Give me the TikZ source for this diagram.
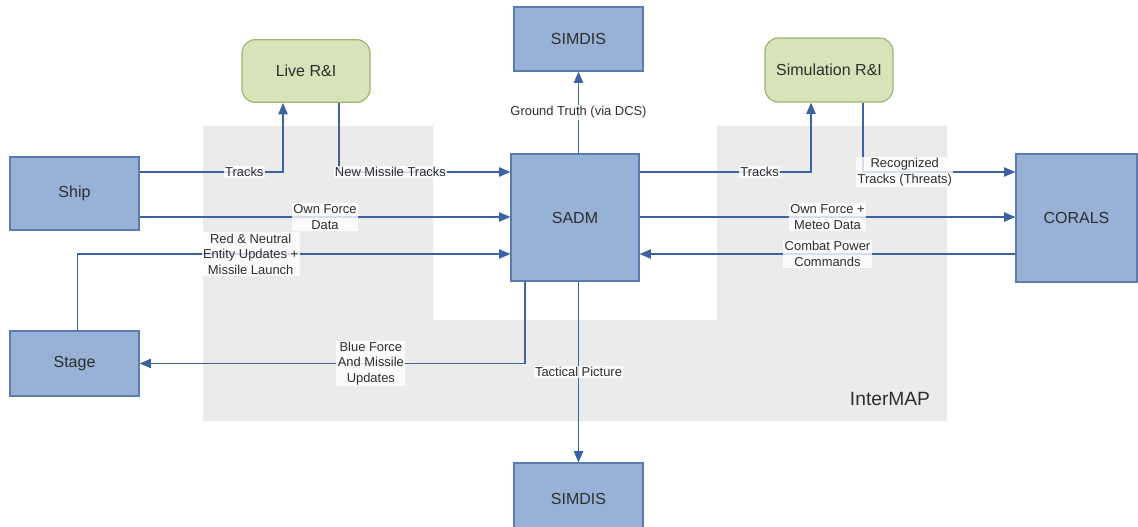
\documentclass[tikz,border=0pt]{standalone}
\usepackage{fontspec}
\setmainfont{Liberation Sans}
\usetikzlibrary{arrows.meta,calc}
\definecolor{boxfill}{HTML}{97B2D6}
\definecolor{boxline}{HTML}{5A7CAE}
\definecolor{rifill}{HTML}{D7E4BA}
\definecolor{riline}{HTML}{9DB56F}
\definecolor{flowline}{HTML}{3D62A0}
\definecolor{mapgray}{HTML}{EBEBEB}
\definecolor{inktext}{HTML}{2E2E2E}
\tikzset{
  sysbox/.style={draw=boxline, fill=boxfill, line width=0.9pt, text=inktext, inner sep=0pt, font=\fontsize{12}{14}\selectfont},
  ribox/.style={draw=riline, fill=rifill, line width=0.9pt, rounded corners=10pt, text=inktext, inner sep=0pt, minimum width=96pt, minimum height=47pt, font=\fontsize{12}{14}\selectfont},
  flow/.style={draw=flowline, line width=1.1pt, -{Triangle[length=8.5pt,width=7pt]}},
  lbl/.style={fill=white, fill opacity=0.8, text opacity=1, text=inktext, align=center, inner sep=1pt, font=\fontsize{9.7}{11.6}\selectfont}
}
\begin{document}
\begin{tikzpicture}[x=0.75pt, y=-0.75pt]
				\useasboundingbox (0,0) rectangle (1138,527);
				% InterMAP area
				\fill[mapgray] (203,126) -- (433,126) -- (433,320) -- (717,320) -- (717,126) -- (947,126) -- (947,421) -- (203,421) -- cycle;
				\node[text=inktext, font=\fontsize{14.4}{16}\selectfont] (intermap) at (890,399) {InterMAP};

				\node[sysbox, minimum width=96.75pt, minimum height=54.75pt] (ship) at (74.5,193.5) {Ship};
				\node[sysbox, minimum width=96.75pt, minimum height=48.75pt] (stage) at (74.5,363.5) {Stage};
				\node[sysbox, minimum width=96pt, minimum height=95.25pt] (sadm) at (575,217.5) {SADM};
				\node[sysbox, minimum width=96.75pt, minimum height=48pt] (simdistop) at (578.5,39) {SIMDIS};
				\node[sysbox, minimum width=96.75pt, minimum height=54pt] (simdisbot) at (578.5,499) {SIMDIS};
				\node[sysbox, minimum width=90.75pt, minimum height=96pt] (corals) at (1076.5,218) {CORALS};
				\node[ribox] (liveri) at (306,71) {Live R\&I};
				\node[ribox, minimum height=48pt] (simri) at (829,70) {Simulation R\&I};

				\coordinate (rowA) at (0,172);
				\coordinate (rowB) at (0,217);
				\coordinate (rowC) at (0,254);

				\draw[flow] (ship.east |- rowA) -| node[lbl, pos=0.365] {Tracks} ($(liveri.south)+(-23,0)$);
				\draw[flow] ($(liveri.south)+(33,0)$) |- node[lbl, pos=0.65] {New Missile Tracks} (sadm.west |- rowA);
				\draw[flow] (ship.east |- rowB) -- node[lbl] {Own Force\\Data} (sadm.west |- rowB);
				\draw[flow] ($(stage.north)+(3,0)$) |- node[lbl, pos=0.7] {Red \& Neutral\\Entity Updates +\\Missile Launch} (sadm.west |- rowC);
				\draw[flow] ($(sadm.south)+(-50,0)$) |- node[lbl, pos=0.7] {Blue Force\\And Missile\\Updates} (stage.east);
				\draw[flow] (sadm.north -| simdistop.south) -- node[lbl] {Ground Truth (via DCS)} (simdistop.south);
				\draw[flow] (sadm.south -| simdisbot.north) -- node[lbl] {Tactical Picture} (simdisbot.north);
				\draw[flow] (sadm.east |- rowA) -| node[lbl, pos=0.35] {Tracks} ($(simri.south)+(-18,0)$);
				\draw[flow] ($(simri.south)+(34,0)$) |- node[lbl, pos=0.637] {Recognized\\Tracks (Threats)} (corals.west |- rowA);
				\draw[flow] (sadm.east |- rowB) -- node[lbl] {Own Force +\\Meteo Data} (corals.west |- rowB);
				\draw[flow] (corals.west |- rowC) -- node[lbl] {Combat Power\\Commands} (sadm.east |- rowC);
			\end{tikzpicture}
\end{document}
